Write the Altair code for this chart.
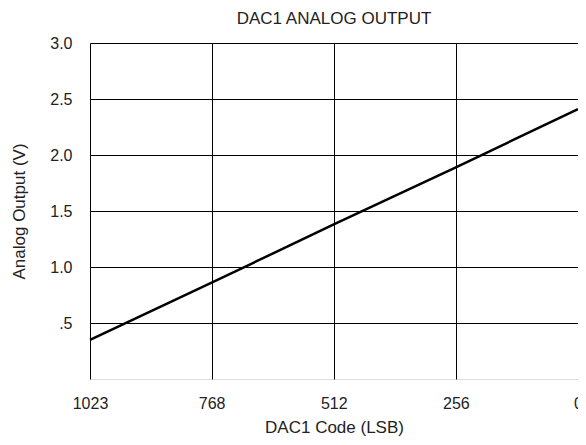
import altair as alt
import pandas as pd

codes = [1023, 768, 512, 256, 0]
volts = [0.35, 0.86, 1.38, 1.89, 2.41]
x_ticks = [1023, 768, 512, 256, 0]
y_ticks = [0.5, 1.0, 1.5, 2.0, 2.5, 3.0]

df = pd.DataFrame({"code": codes, "volt": volts})

FONT = "Liberation Sans"

chart = alt.Chart(df).mark_line(color="black", strokeWidth=2.5).encode(
    x=alt.X("code:Q",
            scale=alt.Scale(domain=[1023, 0], nice=False, zero=False),
            axis=alt.Axis(values=x_ticks, format="d", title="DAC1 Code (LSB)", grid=True,
                          gridColor="black", gridWidth=1, gridOpacity=1,
                          domain=False, ticks=False, labelPadding=16,
                          labelFontSize=16, labelFont=FONT, labelColor="#222",
                          titleFontSize=17, titleFont=FONT, titleColor="#222",
                          titleFontWeight="normal", titlePadding=8,
                          labelFlush=False, labelOverlap=False)),
    y=alt.Y("volt:Q",
            scale=alt.Scale(domain=[0, 3], nice=False),
            axis=alt.Axis(values=y_ticks, title="Analog Output (V)", grid=True,
                          gridColor="black", gridWidth=1, gridOpacity=1,
                          domain=False, ticks=False, labelPadding=18,
                          labelExpr="datum.value == 0.5 ? '.5' : format(datum.value, '.1f')",
                          labelFontSize=16, labelFont=FONT, labelColor="#222",
                          titleFontSize=17, titleFont=FONT, titleColor="#222",
                          titleFontWeight="normal", titleX=-62, titleY=168,
                          labelFlush=False, labelOverlap=False)),
).properties(
    width=488,
    height=336,
    title=alt.TitleParams("DAC1 ANALOG OUTPUT", fontSize=17, font=FONT,
                          color="#222", fontWeight="normal", anchor="middle",
                          frame="group", offset=7),
    autosize=alt.AutoSizeParams(type="none"),
    padding={"left": 82, "top": 35, "right": 0, "bottom": 58},
).configure_view(
    stroke="black", strokeWidth=2.5
).configure(background="white")

chart.save("out.html", embed_options={"renderer": "svg", "actions": False})
